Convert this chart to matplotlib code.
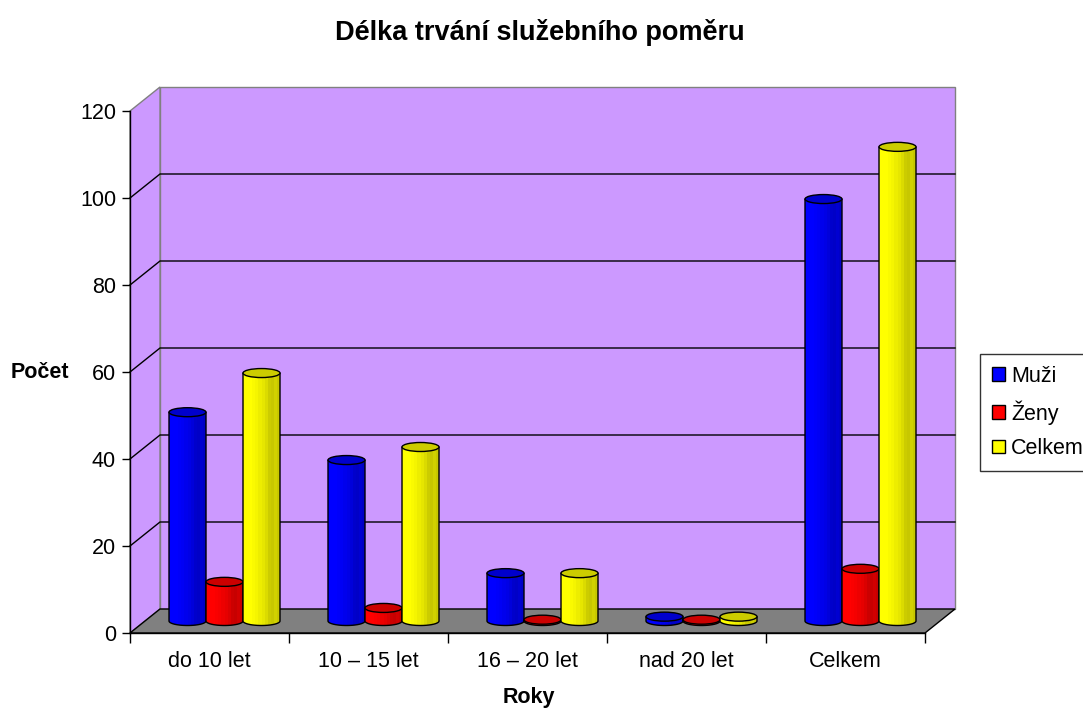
import numpy as np
import matplotlib
matplotlib.use("Agg")
import matplotlib.pyplot as plt
from matplotlib.patches import Polygon, Ellipse, Rectangle

plt.rcParams['font.family'] = ['Liberation Sans', 'DejaVu Sans']

# data
categories = ['do 10 let', '10 – 15 let', '16 – 20 let', 'nad 20 let', 'Celkem']
series = ['Muži', 'Ženy', 'Celkem']
muzi = [48, 37, 11, 1, 97]
zeny = [9, 3, 0, 0, 12]
celkem = [57, 40, 11, 1, 109]
yticks = [0, 20, 40, 60, 80, 100, 120]

colors = ['#0000FF', '#FF0000', '#FFFF00']
wall_col = '#CC99FF'
floor_col = '#808080'

W, H = 1083, 711
fig = plt.figure(figsize=(W / 100, H / 100), dpi=100)
ax = fig.add_axes([130 / W, (H - 633) / H, 795 / W, 522 / H])
n = len(categories)
ax.set_xlim(-0.5, n - 0.5)
ax.set_ylim(0, 120)
ax.patch.set_visible(False)

# depth of the fake 3d box (pixels) converted to data units
px_x = 795 / n
px_y = 522 / 120
dx = 30 / px_x
dy = 24 / px_y

# back wall + left side wall
ax.add_patch(Rectangle((-0.5 + dx, dy), n, 120, fc=wall_col, ec='#808080',
                       lw=1, clip_on=False, zorder=0))
ax.add_patch(Polygon([(-0.5, 0), (-0.5, 120), (-0.5 + dx, 120 + dy), (-0.5 + dx, dy)],
                     closed=True, fc=wall_col, ec='#808080', lw=1, clip_on=False, zorder=0))
for y in yticks[1:-1]:
    ax.plot([-0.5, -0.5 + dx, n - 0.5 + dx], [y, y + dy, y + dy], color='black',
            lw=1, clip_on=False, zorder=1)

# floor
ax.add_patch(Polygon([(-0.5, 0), (n - 0.5, 0), (n - 0.5 + dx, dy), (-0.5 + dx, dy)],
                     closed=True, fc=floor_col, ec='black', lw=1, clip_on=False, zorder=1.5))


def shade(c, f):
    rgb = np.array(matplotlib.colors.to_rgb(c))
    return tuple(rgb * f)


bw = 37 / px_x          # bar width
eh = 9 / px_y           # ellipse height of cylinder top
profile = [1.0, 1.0, 1.0, 0.98, 0.96, 0.93, 0.9, 0.86, 0.8, 0.78, 0.82, 0.78]

values = [muzi, zeny, celkem]
z = 3
for i in range(n):
    for j, vals in enumerate(values):
        v = vals[i]
        cx = i + (j - 1) * bw + dx / 2
        base = dy / 2
        top = base + max(v, 0.3)
        t = np.linspace(np.pi, 2 * np.pi, 40)
        pts = [(cx - bw / 2, top)]
        pts += list(zip(cx + bw / 2 * np.cos(t), base + eh / 2 * np.sin(t)))
        pts += [(cx + bw / 2, top)]
        outline = Polygon(pts, closed=True, fc=colors[j], ec='none', zorder=z)
        ax.add_patch(outline)
        sw = bw / len(profile)
        for k, f in enumerate(profile):
            r = Rectangle((cx - bw / 2 + k * sw, base - eh), sw * 1.05, top - base + eh * 2,
                          fc=shade(colors[j], f), ec='none', zorder=z + 0.1)
            ax.add_patch(r)
            r.set_clip_path(outline)
        ax.add_patch(Polygon(pts, closed=True, fc='none', ec='black', lw=1, zorder=z + 0.2))
        ax.add_patch(Ellipse((cx, top), bw, eh, fc=shade(colors[j], 0.8), ec='black',
                             lw=1, zorder=z + 0.3))
        z += 1

# axes, ticks
for s in ['top', 'right']:
    ax.spines[s].set_visible(False)
for s in ['left', 'bottom']:
    ax.spines[s].set_color('black')
    ax.spines[s].set_linewidth(1)
    ax.spines[s].set_zorder(100)

ax.set_yticks(yticks)
ax.tick_params(axis='y', length=6, width=1, pad=4, labelsize=15.5, direction='out')
ax.set_xticks(np.arange(n + 1) - 0.5)
ax.set_xticklabels([])
ax.set_xticks(np.arange(n), minor=True)
ax.set_xticklabels(categories, minor=True)
ax.tick_params(axis='x', which='major', length=7, width=1, direction='out')
ax.tick_params(axis='x', which='minor', length=0, pad=13, labelsize=15.5)

fig.text(540 / W, 1 - 32 / H, 'Délka trvání služebního poměru', ha='center',
         va='center', fontsize=19.5, fontweight='bold')
fig.text(40 / W, 1 - 373 / H, 'Počet', ha='center', va='center', fontsize=15.5,
         fontweight='bold')
fig.text(529 / W, 1 - 697 / H, 'Roky', ha='center', va='center', fontsize=15.5,
         fontweight='bold')

handles = [Rectangle((0, 0), 1, 1, fc=c, ec='black', lw=1) for c in colors]
leg = fig.legend(handles, series, loc='upper left', bbox_to_anchor=(980 / W, 1 - 354 / H),
                 frameon=True, fancybox=False, edgecolor='black', fontsize=15.5,
                 handlelength=0.6, handleheight=0.6, handletextpad=0.3,
                 labelspacing=0.62, borderpad=0.55, borderaxespad=0)
leg.get_frame().set_linewidth(1)

fig.savefig('out.png', dpi=100)
